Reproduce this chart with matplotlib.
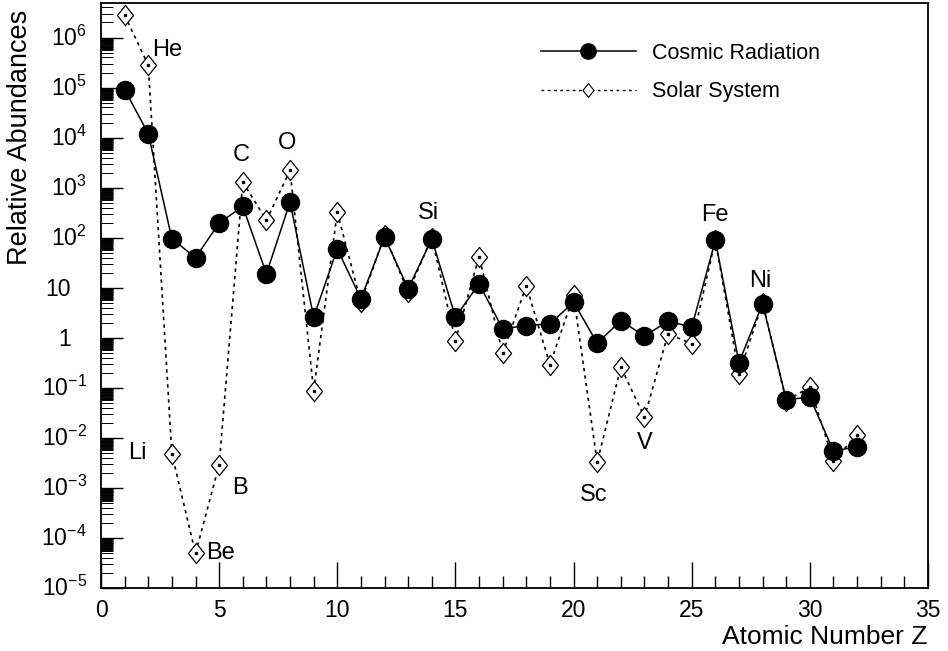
import numpy as np
import matplotlib
matplotlib.use("Agg")
import matplotlib.pyplot as plt
from matplotlib.path import Path
from matplotlib.ticker import FixedLocator, LogLocator, NullFormatter
from matplotlib.lines import Line2D
from matplotlib.transforms import blended_transform_factory, ScaledTranslation

plt.rcParams["font.family"] = ["Liberation Sans", "DejaVu Sans"]
plt.rcParams["mathtext.fontset"] = "custom"
plt.rcParams["mathtext.rm"] = "Liberation Sans"
plt.rcParams["mathtext.it"] = "Liberation Sans:italic"
plt.rcParams["mathtext.bf"] = "Liberation Sans:bold"

# Atomic number Z = 1 .. 32
atomic_number = list(range(1, 33))

# Relative abundances, galactic cosmic rays
cosmic_radiation = [9.1e4, 1.2e4, 95, 40, 196, 423, 19, 515, 2.58, 60,
                    6.0, 103, 9.5, 95, 2.58, 12, 1.5, 1.76, 1.9, 5.15,
                    0.78, 2.2, 1.08, 2.15, 1.63, 88, 0.32, 4.8, 0.058, 0.065,
                    0.0054, 0.0067]

# Relative abundances, solar system
solar_system = [2.8e6, 2.8e5, 4.8e-3, 4.9e-5, 2.9e-3, 1300, 222, 2220, 0.088, 325,
                5.1, 111, 8.2, 100, 0.88, 42, 0.49, 11, 0.29, 7.0,
                3.25e-3, 0.26, 0.026, 1.2, 0.76, 90, 0.19, 5.0, 0.055, 0.103,
                3.5e-3, 0.0115]

series_names = ["Cosmic Radiation", "Solar System"]

# y-axis decades and their labels
y_decades = [-5, -4, -3, -2, -1, 0, 1, 2, 3, 4, 5, 6]

# Element symbols placed next to selected points
element_labels = ["He", "Li", "Be", "B", "C", "O", "Si", "Sc", "V", "Fe", "Ni"]
element_z = [2, 3, 4, 5, 6, 8, 14, 21, 23, 26, 28]
element_series = ["solar", "solar", "solar", "solar", "solar", "solar",
                  "cosmic", "solar", "solar", "cosmic", "cosmic"]

# pixel offsets / alignment of each symbol relative to its point
label_style = {
    "He": (4, 15, "left"),
    "Li": (-25, 1, "right"),
    "Be": (11, 0, "left"),
    "B": (13, -23, "left"),
    "C": (-2, 27, "center"),
    "O": (-3, 27, "center"),
    "Si": (-3, 26, "center"),
    "Sc": (-3, -33, "center"),
    "V": (0, -26, "center"),
    "Fe": (0, 25, "center"),
    "Ni": (-2, 23, "center"),
}

W, H = 948, 651
DPI = 100
fig = plt.figure(figsize=(W / DPI, H / DPI), dpi=DPI)
ax = fig.add_axes([101 / W, (H - 588) / H, (928 - 101) / W, (588 - 3) / H])

diamond = Path([(0, 1), (0.8, 0), (0, -1), (-0.8, 0), (0, 1)],
               [Path.MOVETO, Path.LINETO, Path.LINETO, Path.LINETO, Path.CLOSEPOLY])

ax.plot(atomic_number, solar_system, color="black", lw=1.2,
        linestyle=(0, (2, 2.5)), zorder=2)
ax.plot(atomic_number, solar_system, linestyle="none", marker=diamond,
        markersize=14.5, markerfacecolor="white", markeredgecolor="black",
        markeredgewidth=0.9, zorder=3)
ax.plot(atomic_number, solar_system, linestyle="none", marker="s",
        markersize=1.4, color="black", zorder=3.5)
ax.plot(atomic_number, cosmic_radiation, color="black", lw=1.1,
        marker="o", markersize=13, markerfacecolor="black",
        markeredgecolor="black", zorder=4)

ax.set_yscale("log")
ax.set_xlim(0, 35)
ax.set_ylim(1e-5, 10 ** 6.69)

ax.xaxis.set_major_locator(FixedLocator(np.arange(0, 36, 5)))
ax.xaxis.set_minor_locator(FixedLocator(np.arange(0, 36, 1)))
ax.yaxis.set_major_locator(FixedLocator([10.0 ** e for e in y_decades]))
minor_subs = [2.0, 3.0, 4.0, 5.0] + list(np.arange(5.6, 9.99, 0.25))
ax.yaxis.set_minor_locator(LogLocator(base=10, subs=minor_subs, numticks=200))
ax.yaxis.set_major_formatter(NullFormatter())
ax.yaxis.set_minor_formatter(NullFormatter())

ax.tick_params(axis="both", which="both", direction="in", top=False, right=False,
               width=1.0, labelsize=16.5, colors="black")
ax.tick_params(axis="x", which="major", length=19, pad=8)
ax.tick_params(axis="x", which="minor", length=9)
ax.tick_params(axis="y", which="major", length=16)
ax.tick_params(axis="y", which="minor", length=8.5, width=0.7)

# decade labels: base number centred on the tick, exponent raised above it
ylab_trans = blended_transform_factory(ax.transAxes, ax.transData)
for e in y_decades:
    if e == 0:
        txt, dx = "1", -30
    elif e == 1:
        txt, dx = "10", -30
    else:
        txt, dx = r"$\mathdefault{10^{%d}}$" % e, -14
    off = ScaledTranslation(dx / DPI, -8 / DPI, fig.dpi_scale_trans)
    ax.text(0, 10.0 ** e, txt, transform=ylab_trans + off, ha="right",
            va="baseline", fontsize=16.5, clip_on=False)

for s in ax.spines.values():
    s.set_linewidth(1.3)
    s.set_color("black")

ax.set_xlabel("Atomic Number Z", fontsize=19, loc="right", labelpad=2)
ax.set_ylabel("Relative Abundances", fontsize=19.5, loc="top")
ax.yaxis.set_label_coords(-68 / 827, 1 - 7 / 585)

for name, z, ser in zip(element_labels, element_z, element_series):
    vals = solar_system if ser == "solar" else cosmic_radiation
    dx, dy, ha = label_style[name]
    ax.annotate(name, (z, vals[z - 1]), xytext=(dx, dy),
                textcoords="offset pixels", ha=ha, va="center",
                fontsize=17, zorder=5)

handles = [
    Line2D([], [], color="black", lw=1.1, marker="o", markersize=11,
           markerfacecolor="black"),
    Line2D([], [], color="black", lw=1.0, linestyle=(0, (2, 2.5)),
           marker=diamond, markersize=10, markerfacecolor="white",
           markeredgecolor="black", markeredgewidth=0.8),
]
ax.legend(handles, series_names, loc="upper left",
          bbox_to_anchor=(541 / W, 1 - 43 / H), bbox_transform=fig.transFigure,
          frameon=False, fontsize=15.5, handlelength=4.4, handletextpad=0.75,
          labelspacing=0.8, borderpad=0, borderaxespad=0)

fig.savefig("out.png", dpi=DPI)
